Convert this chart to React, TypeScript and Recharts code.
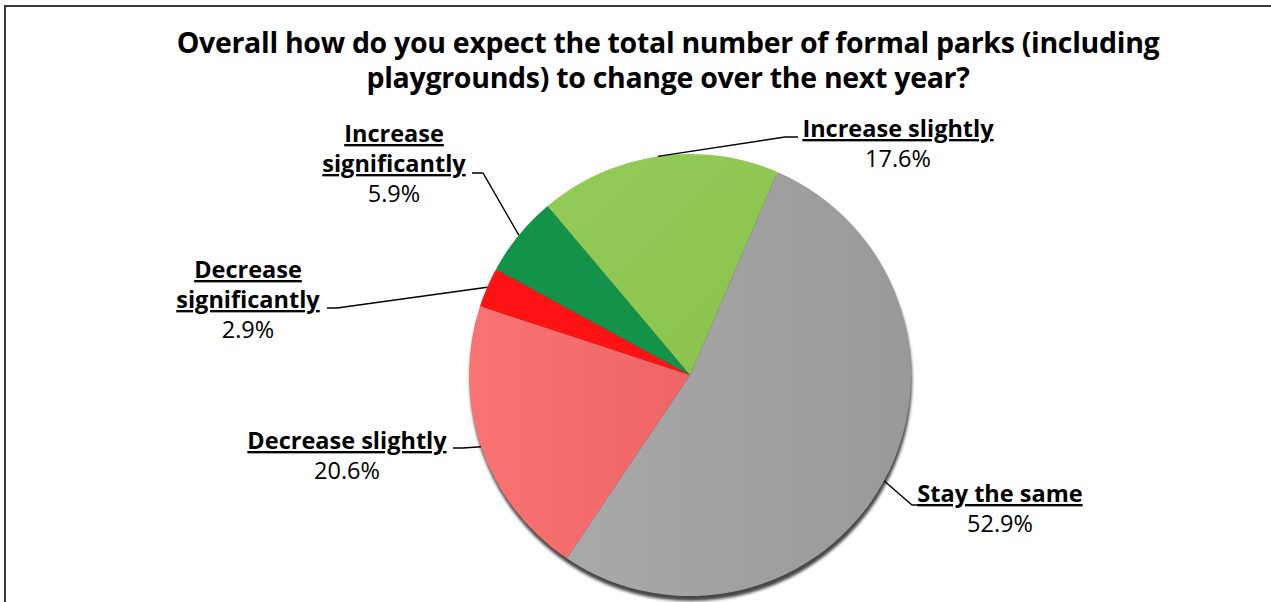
import { PieChart, Pie, Cell } from 'recharts';

const categories = [
  'Stay the same',
  'Decrease slightly',
  'Decrease significantly',
  'Increase significantly',
  'Increase slightly',
];
const shares = [52.9, 20.6, 2.9, 5.9, 17.6];
const titleLines = [
  'Overall how do you expect the total number of formal parks (including',
  'playgrounds) to change over the next year?',
];

const sliceFills = ['url(#gGray)', 'url(#gPink)', '#fd1313', '#13924a', 'url(#gLime)'];

// label placement relative to the pie centre: text centre / first baseline, elbow, line end
const labelLayout = [
  { tx: 310, ty: 127, ex: 222, ey: 130, lx: 228, wrap: false },
  { tx: -343, ty: 74, ex: -227, ey: 73, lx: -237, wrap: false },
  { tx: -442, ty: -97, ex: -353, ey: -67, lx: -363, wrap: true },
  { tx: -296, ty: -233, ex: -207, ey: -202, lx: -218, wrap: true },
  { tx: 208, ty: -238, ex: 95, ey: -238, lx: 108, wrap: false },
];

const data = categories.map((name, i) => ({ name, value: shares[i] }));
const total = shares.reduce((a, b) => a + b, 0);
const shadowData = [{ name: 'shadow', value: total }];

const FONT = '"Open Sans", Lato, sans-serif';
const RAD = Math.PI / 180;

const renderLabel = (props: any) => {
  const { cx, cy, midAngle, outerRadius, index, value } = props;
  const lay = labelLayout[index];
  const ax = cx + outerRadius * Math.cos(-midAngle * RAD);
  const ay = cy + outerRadius * Math.sin(-midAngle * RAD);
  const name: string = categories[index];
  const lines = lay.wrap ? [name.slice(0, name.indexOf(' ')), name.slice(name.indexOf(' ') + 1)] : [name];
  const x = cx + lay.tx;
  const y0 = cy + lay.ty;
  return (
    <g key={`lbl-${index}`}>
      <polyline
        points={`${ax},${ay} ${cx + lay.ex},${cy + lay.ey} ${cx + lay.lx},${cy + lay.ey}`}
        fill="none"
        stroke="#000"
        strokeWidth={1.4}
      />
      {lines.map((ln, k) => (
        <text
          key={k}
          x={x}
          y={y0 + k * 30}
          textAnchor="middle"
          fontFamily={FONT}
          fontWeight={700}
          fontSize={23.5}
          textDecoration="underline"
          fill="#000"
        >
          {ln}
        </text>
      ))}
      <text x={x} y={y0 + lines.length * 30} textAnchor="middle" fontFamily={FONT} fontSize={23.5} fill="#000">
        {`${value.toFixed(1)}%`}
      </text>
    </g>
  );
};

export default function App() {
  return (
    <div style={{ position: 'fixed', left: 0, top: 0, width: 1271, height: 602, background: '#fff', overflow: 'hidden' }}>
      <div
        style={{
          position: 'absolute',
          left: 4,
          top: 5,
          width: 1300,
          height: 700,
          borderTop: '2px solid #3a3a3a',
          borderLeft: '2px solid #3a3a3a',
        }}
      />
      <PieChart width={1271} height={602} style={{ position: 'absolute', left: 0, top: 0 }}>
        <defs>
          <linearGradient id="gGray" x1="0" y1="0" x2="1" y2="0">
            <stop offset="0%" stopColor="#a9a9a9" />
            <stop offset="100%" stopColor="#999999" />
          </linearGradient>
          <linearGradient id="gPink" x1="0" y1="0" x2="1" y2="0">
            <stop offset="0%" stopColor="#f97474" />
            <stop offset="100%" stopColor="#ef6464" />
          </linearGradient>
          <linearGradient id="gLime" x1="0" y1="0" x2="1" y2="1">
            <stop offset="0%" stopColor="#93cb58" />
            <stop offset="100%" stopColor="#89c34d" />
          </linearGradient>
          <filter id="blurShadow" x="-10%" y="-10%" width="120%" height="120%">
            <feGaussianBlur stdDeviation="1.5" />
          </filter>
        </defs>
        {titleLines.map((t, i) => (
          <text
            key={i}
            x={668}
            y={53 + i * 35}
            textAnchor="middle"
            fontFamily={FONT}
            fontWeight={700}
            fontSize={28.5}
            letterSpacing={-0.3}
            fill="#000"
          >
            {t}
          </text>
        ))}
        <Pie
          data={shadowData}
          dataKey="value"
          cx={686}
          cy={375}
          outerRadius={221}
          fill="#464646"
          stroke="none"
          isAnimationActive={false}
          style={{ filter: 'url(#blurShadow)' }}
        />
        <Pie
          data={data}
          dataKey="value"
          nameKey="name"
          cx={685}
          cy={370}
          outerRadius={221}
          startAngle={66.7}
          endAngle={-293.3}
          stroke="none"
          label={renderLabel}
          labelLine={false}
          isAnimationActive={false}
        >
          {data.map((d, i) => (
            <Cell key={d.name} fill={sliceFills[i]} />
          ))}
        </Pie>
      </PieChart>
    </div>
  );
}
